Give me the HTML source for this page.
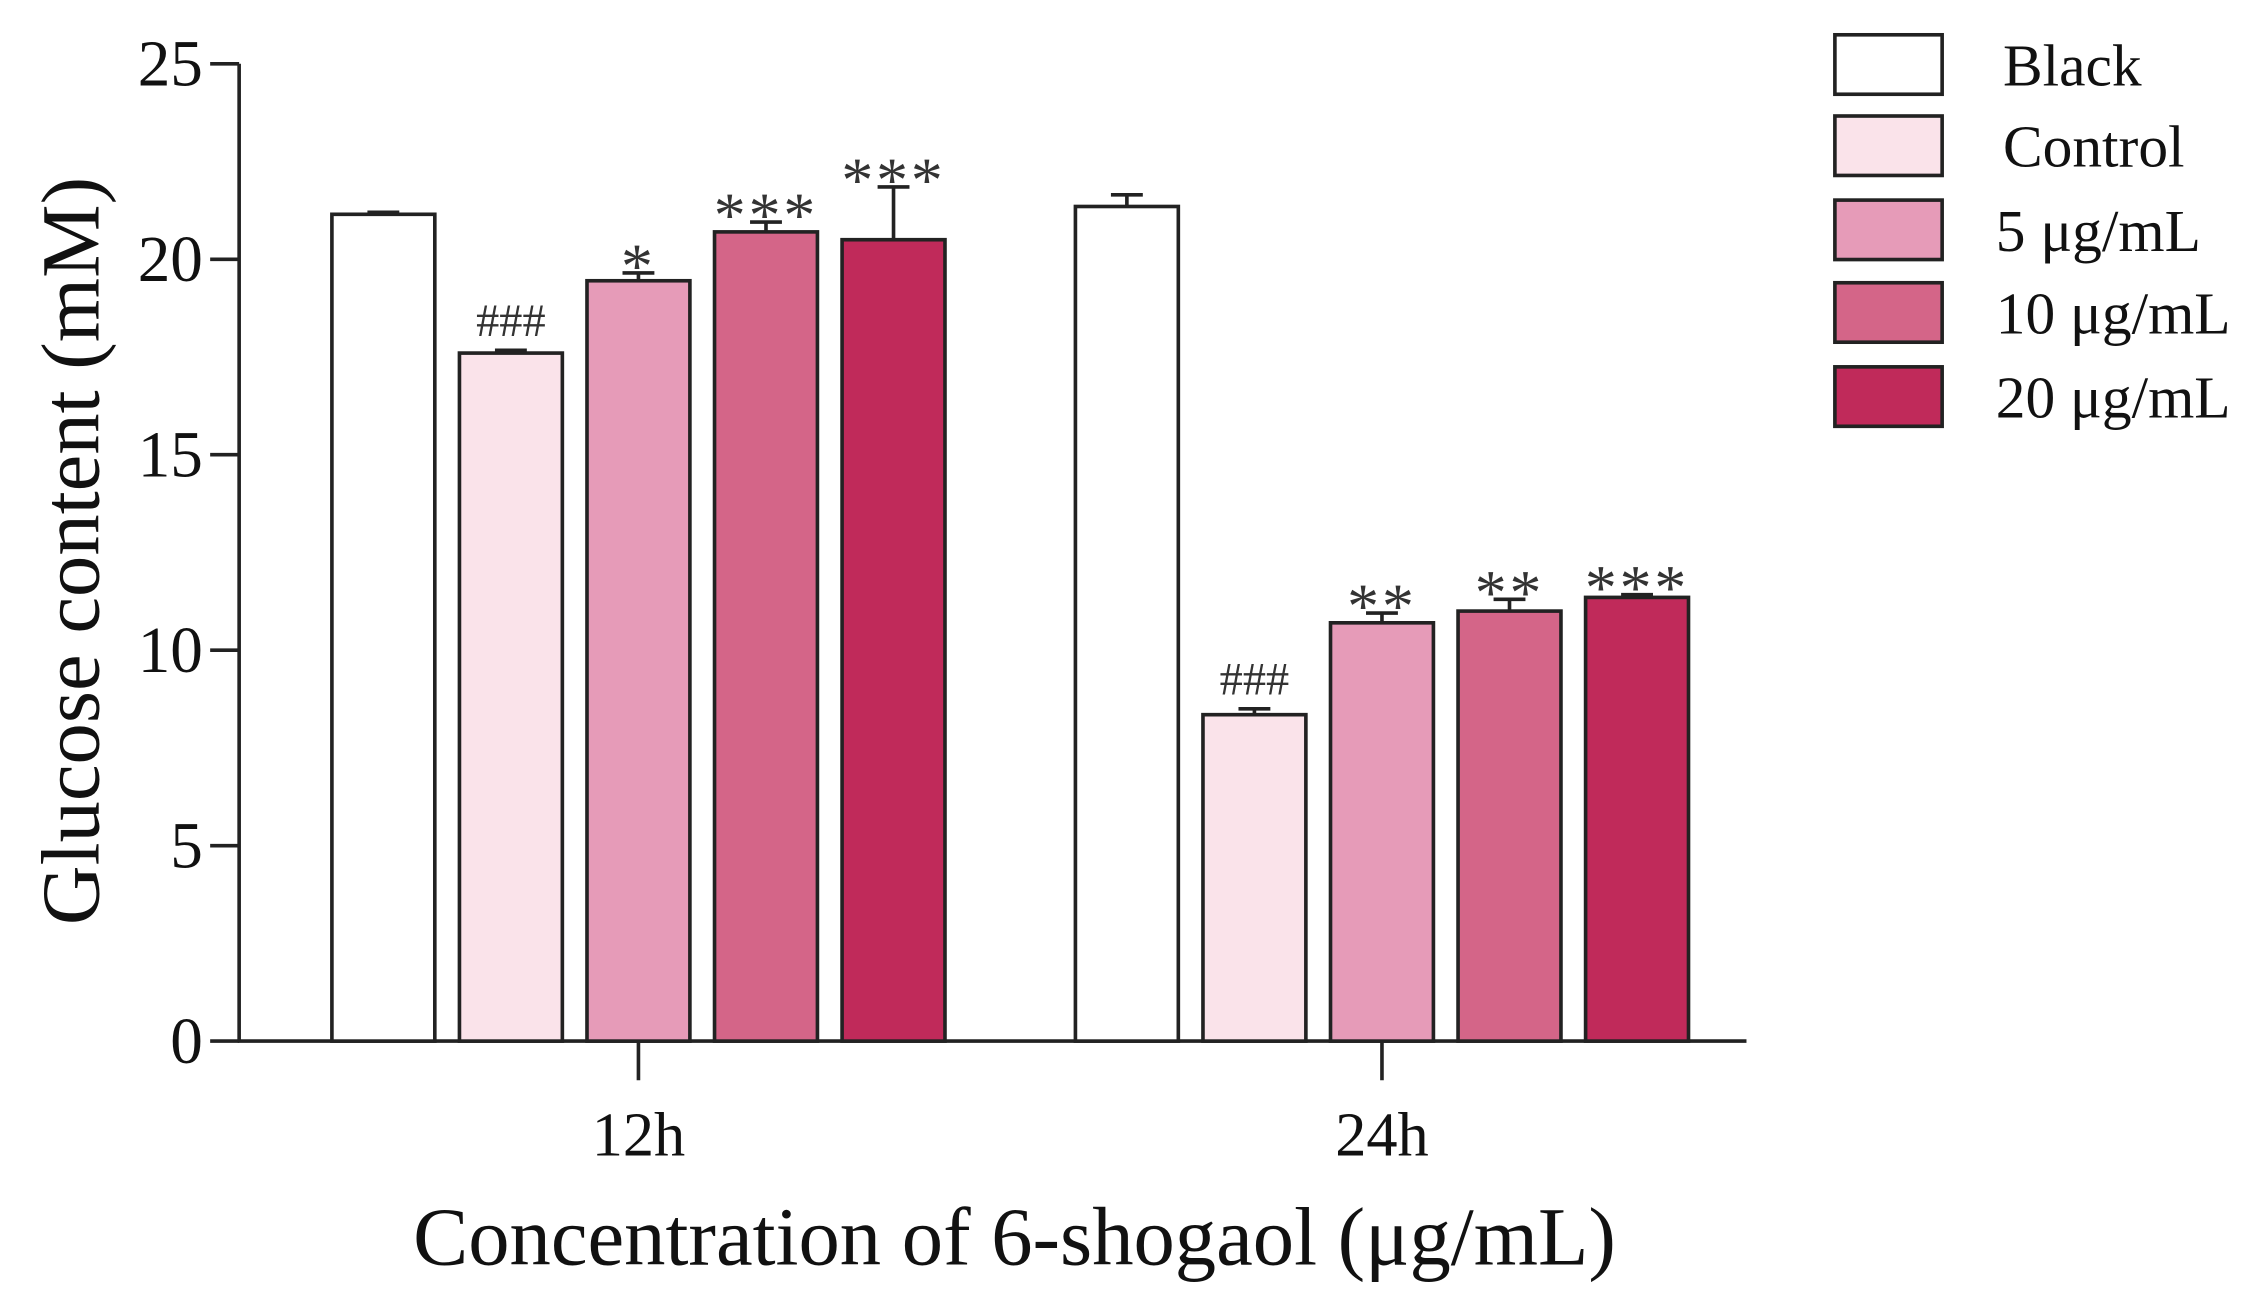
<!DOCTYPE html>
<html><head><meta charset="utf-8"><style>
html,body{margin:0;padding:0;background:#fff;}
svg{display:block;font-family:"Liberation Serif",serif;}
</style></head><body>
<svg id="chart" width="2261" height="1305" viewBox="0 0 1560 900" preserveAspectRatio="none" xmlns="http://www.w3.org/2000/svg"></svg>
<script>
const groups = ["12h", "24h"];
const seriesNames = ["Black", "Control", "5 μg/mL", "10 μg/mL", "20 μg/mL"];
const colors = ["#ffffff", "#fae3ea", "#e69bb8", "#d46588", "#c02a5a"];
const values12h = [21.15, 17.6, 19.45, 20.7, 20.5];
const values24h = [21.35, 8.35, 10.7, 11.0, 11.35];
const errors12h = [0.05, 0.07, 0.2, 0.25, 1.35];
const errors24h = [0.3, 0.15, 0.25, 0.3, 0.07];
const marks12h = ["", "###", "*", "***", "***"];
const marks24h = ["", "###", "**", "**", "***"];
const yTicks = [0, 5, 10, 15, 20, 25];

const NS = "http://www.w3.org/2000/svg";
const svg = document.getElementById("chart");
function mk(tag, attrs, parent) {
  const e = document.createElementNS(NS, tag);
  for (const k in attrs) e.setAttribute(k, attrs[k]);
  (parent || svg).appendChild(e);
  return e;
}
const y0 = 718, yTop = 44, yMax = 25;
const yScale = v => y0 - (v / yMax) * (y0 - yTop);
const groupStart = [229, 742];
const barW = 71, barStep = 88;
const xBar = (g, i) => groupStart[g] + i * barStep;

const ax = mk("line", {x1:165, y1:yTop, x2:165, y2:y0+1, stroke:"#222", "stroke-width":2.5});


const xa = mk("line", {x1:164, y1:y0, x2:1205, y2:y0, stroke:"#222", "stroke-width":2.5});



yTicks.forEach(t => {
  const y = yScale(t);
  const tk = mk("line", {x1:145, y1:y, x2:165, y2:y, stroke:"#222", "stroke-width":2.5});
  
  
  const tl = mk("text", {x:140, y:y+15, "text-anchor":"end", "font-size":45, fill:"#111"});
  tl.textContent = t;
  
  
});

const allVals = [values12h, values24h], allErr = [errors12h, errors24h], allMarks = [marks12h, marks24h];
groups.forEach((gname, g) => {
  const cx = groupStart[g] + (4 * barStep + barW) / 2;
  const tk = mk("line", {x1:cx, y1:y0, x2:cx, y2:y0+27, stroke:"#222", "stroke-width":2.5});
  
  
  const gl = mk("text", {x:cx, y:797, "text-anchor":"middle", "font-size":43, fill:"#111"});
  gl.textContent = gname;
  
  
  allVals[g].forEach((v, i) => {
    const x = xBar(g, i), y = yScale(v);
    const top = yScale(v + allErr[g][i]);
    const e1 = mk("line", {x1:x+barW/2, y1:y, x2:x+barW/2, y2:top, stroke:"#222", "stroke-width":2.5});
    
    
    const e2 = mk("line", {x1:x+barW/2-11, y1:top, x2:x+barW/2+11, y2:top, stroke:"#222", "stroke-width":2.5});
    
    
    const r = mk("rect", {x:x, y:y, width:barW, height:y0-y, fill:colors[i], stroke:"#222", "stroke-width":2.5});
    
    
    if (allMarks[g][i]) {
      const isHash = allMarks[g][i][0] === "#";
      const m = mk("text", {x:x+barW/2, y:top-(isHash?10:-10), "text-anchor":"middle", "font-size":isHash?32:44, fill:"#333", "letter-spacing":isHash?0:2});
      m.textContent = allMarks[g][i];
      
      
    }
  });
});

const yt = mk("text", {x:0, y:0, transform:"translate(68,380) rotate(-90)", "text-anchor":"middle", "font-size":57, fill:"#111"});
yt.textContent = "Glucose content (mM)";


const xt = mk("text", {x:700, y:872, "text-anchor":"middle", "font-size":57, fill:"#111"});
xt.textContent = "Concentration of 6-shogaol (μg/mL)";



const legY = [24, 80, 138, 195, 253];
seriesNames.forEach((n, i) => {
  const b = mk("rect", {x:1266, y:legY[i], width:74, height:41, fill:colors[i], stroke:"#222", "stroke-width":2.5});
  
  
  const t = mk("text", {x:i<2?1382:1377, y:legY[i]+35, "font-size":41, fill:"#111"});
  t.textContent = n;
  
  
});
</script>
</body></html>
